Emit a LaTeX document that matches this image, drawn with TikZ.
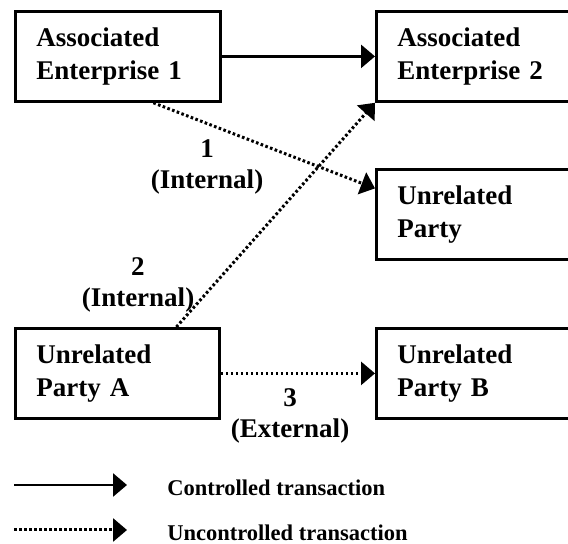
\documentclass[tikz,border=0pt]{standalone}
\usepackage{fontspec}
\setmainfont{Liberation Serif}
\usetikzlibrary{arrows.meta,positioning}
\definecolor{ink}{HTML}{000000}
\tikzset{
  box/.style={draw=ink,line width=1.4pt,anchor=north west,minimum height=45pt,inner xsep=10.5pt,inner ysep=0pt,align=left,font=\fontsize{13.5}{16.5}\selectfont\bfseries,text=ink},
  ctl/.style={-{Triangle[length=7pt,width=11.5pt]},line width=1.4pt,ink},
  unctl/.style={ctl,line width=1.5pt,dash pattern=on 1.3pt off 1.2pt},
  lab/.style={align=center,inner sep=0pt,font=\fontsize{13.5}{15.5}\selectfont\bfseries,text=ink},
  leg/.style={anchor=base west,inner sep=0pt,font=\fontsize{11.25}{13}\selectfont\bfseries,text=ink}
}

\begin{document}
\begin{tikzpicture}[x=0.5pt,y=-0.5pt]
\clip (0,0) rectangle (568,544);
% ---------------- boxes ----------------
\node[box,text width=81.5pt] (ae1) at (14,10) {Associated\\Enterprise 1};
\node[box,text width=80pt] (ae2) at (375,10) {Associated\\Enterprise 2};
\node[box,text width=80pt] (up) at (375,168) {Unrelated\\Party};
\node[box,text width=81pt] (upa) at (14,327) {Unrelated\\Party A};
\node[box,text width=80pt] (upb) at (375,327) {Unrelated\\Party B};
% ---------------- transactions ----------------
\draw[ctl] (ae1.east) -- (ae2.west);
\draw[unctl] ([xshift=17.75pt]ae1.south) -- ([yshift=13pt]up.west);
\draw[unctl] ([xshift=29.5pt]upa.north) -- (ae2.south west);
\draw[unctl] (upa.east) -- (upb.west);
\node[lab] (l1) at (207,167) {1\\(Internal)};
\node[lab] (l2) at (138,285) {2\\(Internal)};
\node[lab] (l3) at (290,416) {3\\(External)};
% ---------------- legend ----------------
\coordinate (c1a) at (14,485);\coordinate (c1b) at (127,485);
\coordinate (c2a) at (14,530);\coordinate (c2b) at (127,530);
\draw[ctl] (c1a) -- (c1b);\node[leg] (lg1) at (167,496) {Controlled transaction};
\draw[unctl] (c2a) -- (c2b);\node[leg] (lg2) at (167,541) {Uncontrolled transaction};
\end{tikzpicture}
\end{document}
